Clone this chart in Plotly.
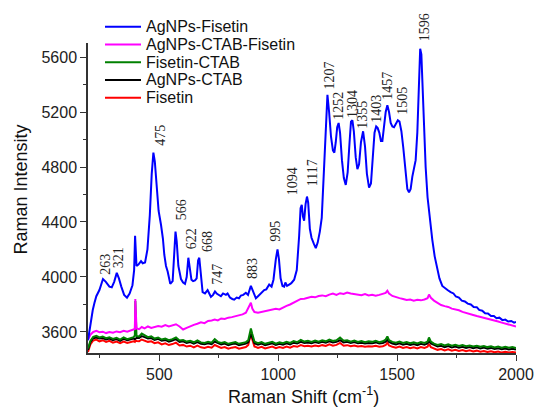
import plotly.graph_objects as go

# ---------------- data ----------------
series_names = ["AgNPs-Fisetin", "AgNPs-CTAB-Fisetin", "Fisetin-CTAB", "AgNPs-CTAB", "Fisetin"]
series_colors = ["#0000FF", "#FF00FF", "#008000", "#000000", "#FF0000"]

blue_x = [
    200, 207, 213, 220, 227, 235, 248, 256, 263, 275,
    290, 300, 310, 321, 330, 340, 352, 364, 375, 387,
    394, 398, 401, 404, 412, 423, 430, 440, 450, 460,
    468, 475, 481, 488, 497, 507, 515, 521, 528, 535,
    546, 556, 563, 568, 573, 580, 591, 600, 608, 615,
    622, 628, 635, 642, 650, 657, 663, 668, 673, 682,
    692, 703, 710, 717, 726, 734, 741, 750, 759, 768,
    780, 787, 797, 807, 815, 825, 835, 843, 853, 864,
    873, 885, 893, 906, 915, 925, 935, 941, 950, 962,
    972, 980, 990, 997, 1003, 1010, 1018, 1025, 1030, 1037,
    1046, 1055, 1067, 1078, 1088, 1094, 1099, 1104, 1109, 1115,
    1121, 1126, 1133, 1140, 1150, 1158, 1166, 1175, 1183, 1190,
    1198, 1207, 1214, 1222, 1230, 1236, 1242, 1248, 1254, 1260,
    1268, 1276, 1284, 1292, 1300, 1306, 1312, 1318, 1326, 1333,
    1340, 1348, 1357, 1365, 1373, 1382, 1390, 1398, 1405, 1412,
    1418, 1425, 1432, 1438, 1445, 1452, 1459, 1466, 1473, 1480,
    1487, 1495, 1503, 1510, 1518, 1526, 1535, 1543, 1550, 1557,
    1564, 1571, 1578, 1585, 1591, 1597, 1602, 1607, 1613, 1620,
    1628, 1638, 1648, 1658, 1669, 1678, 1690, 1700, 1712, 1725,
    1737, 1747, 1760, 1772, 1785, 1797, 1810, 1822, 1835, 1845,
    1858, 1870, 1882, 1895, 1907, 1918, 1930, 1943, 1955, 1967,
    1980, 1992, 2000,
]
blue_y = [
    3540, 3620, 3710, 3760, 3810, 3860, 3905, 3950, 3985, 3965,
    3930, 3925, 3965, 4030, 3990, 3930, 3870, 3850, 3880, 3940,
    4050, 4300, 4200, 4080, 4090, 4115, 4100, 4105, 4200, 4450,
    4750, 4905, 4840, 4650, 4480, 4380, 4280, 4160, 4080, 4040,
    3950, 3970, 4150, 4330, 4260, 4080, 3985, 3960, 3950, 4000,
    4140, 4050, 3980, 3970, 3975, 3990, 4120, 4140, 4060, 3890,
    3880, 3905, 3880, 3855, 3870, 3895, 3880, 3870, 3860, 3880,
    3870, 3880, 3850, 3840, 3835, 3850, 3845, 3865, 3870, 3885,
    3870, 3935, 3900, 3845, 3860, 3880, 3900, 3905, 3910, 3945,
    3930, 3980, 4130, 4200, 4130, 3990, 3935, 3930, 3960, 3935,
    3945, 3955, 3980, 4050, 4300, 4500, 4525, 4440, 4410, 4530,
    4585, 4540, 4350, 4285, 4240, 4210, 4250, 4330, 4430, 4700,
    5050, 5325, 5200, 5020, 4920, 4905, 4980, 5090, 5120, 5050,
    4850, 4720, 4670, 4760, 4980, 5130, 5140, 5060, 4870, 4785,
    4820, 4980, 5060, 4950, 4750, 4650, 4680, 4880, 5050, 5095,
    5085, 5050, 4990, 4990, 5090, 5200, 5250, 5200, 5120, 5095,
    5090, 5120, 5140, 5130, 5060, 4940, 4750, 4640, 4615, 4640,
    4730, 4780, 4850, 5050, 5400, 5660, 5620, 5400, 5050, 4800,
    4580, 4400, 4270, 4150, 4050, 3990, 3935, 3920, 3905, 3890,
    3880, 3858, 3850, 3828, 3822, 3806, 3800, 3782, 3780, 3760,
    3755, 3736, 3735, 3716, 3716, 3700, 3704, 3686, 3690, 3676,
    3680, 3668, 3672,
]

base_x = [
    200, 210, 222, 235, 248, 262, 276, 290, 305, 320,
    335, 350, 365, 380, 392, 397, 399, 404, 415, 426,
    438, 452, 466, 480, 495, 510, 525, 540, 555, 570,
    585, 600, 615, 630, 645, 660, 675, 690, 705, 720,
    733, 746, 760, 775, 790, 805, 820, 835, 850, 864,
    874, 880, 885, 891, 900, 915, 930, 945, 960, 975,
    990, 1005, 1020, 1035, 1050, 1065, 1080, 1095, 1110, 1125,
    1140, 1155, 1170, 1185, 1200, 1215, 1230, 1245, 1260, 1275,
    1290, 1305, 1320, 1335, 1350, 1365, 1380, 1395, 1410, 1425,
    1440, 1452, 1459, 1466, 1480, 1495, 1510, 1525, 1540, 1555,
    1570, 1585, 1600, 1615, 1628, 1634, 1642, 1655, 1670, 1685,
    1700, 1715, 1730, 1745, 1760, 1775, 1790, 1805, 1820, 1835,
    1850, 1865, 1880, 1895, 1910, 1925, 1940, 1955, 1970, 1985,
    2000,
]
magenta_y = [
    3545, 3580, 3600, 3608, 3598, 3602, 3592, 3600, 3594, 3604,
    3598, 3608, 3602, 3612, 3618, 3622, 3840, 3626, 3620, 3636,
    3626, 3640, 3630, 3636, 3644, 3638, 3650, 3640, 3646, 3656,
    3640, 3618, 3630, 3642, 3652, 3660, 3670, 3664, 3680, 3684,
    3690, 3684, 3698, 3694, 3704, 3708, 3714, 3720, 3728, 3740,
    3775, 3805, 3812, 3770, 3745, 3740, 3746, 3750, 3756, 3762,
    3768, 3764, 3780, 3790, 3800, 3814, 3826, 3840, 3842, 3850,
    3856, 3852, 3862, 3866, 3860, 3872, 3880, 3870, 3882, 3876,
    3886, 3880, 3876, 3874, 3868, 3876, 3866, 3870, 3864, 3870,
    3876, 3884, 3900, 3880, 3862, 3852, 3846, 3840, 3832, 3836,
    3828, 3834, 3830, 3836, 3845, 3872, 3848, 3828, 3812, 3796,
    3788, 3782, 3770, 3766, 3758, 3746, 3740, 3730, 3724, 3716,
    3710, 3704, 3698, 3690, 3682, 3676, 3668, 3660, 3654, 3648,
    3640,
]
green_y = [
    3480, 3535, 3565, 3572, 3560, 3566, 3555, 3562, 3550, 3558,
    3545, 3560, 3548, 3556, 3562, 3575, 3825, 3570, 3568, 3588,
    3575, 3562, 3568, 3552, 3560, 3545, 3552, 3540, 3548, 3560,
    3538, 3542, 3530, 3536, 3525, 3538, 3524, 3520, 3528, 3522,
    3548, 3528, 3520, 3526, 3514, 3522, 3526, 3514, 3520, 3526,
    3540, 3595, 3625, 3585, 3530, 3518, 3526, 3514, 3522, 3528,
    3515, 3524, 3518, 3528, 3520, 3534, 3526, 3542, 3530, 3536,
    3528, 3538, 3530, 3540, 3532, 3544, 3534, 3540, 3560, 3536,
    3540, 3530, 3538, 3528, 3534, 3526, 3532, 3528, 3536, 3526,
    3532, 3545, 3568, 3540, 3528, 3522, 3530, 3520, 3526, 3518,
    3524, 3516, 3526, 3520, 3530, 3560, 3530, 3515, 3506, 3512,
    3502, 3510, 3500, 3506, 3498, 3504, 3496, 3502, 3494, 3500,
    3492, 3498, 3490, 3496, 3488, 3494, 3486, 3492, 3485, 3490,
    3484,
]
black_y = [
    3470, 3525, 3555, 3560, 3552, 3556, 3545, 3552, 3540, 3548,
    3536, 3550, 3540, 3546, 3552, 3548, 3550, 3556, 3556, 3570,
    3562, 3552, 3556, 3542, 3550, 3536, 3542, 3530, 3538, 3548,
    3528, 3532, 3520, 3526, 3515, 3526, 3514, 3510, 3518, 3512,
    3530, 3518, 3510, 3516, 3504, 3512, 3516, 3504, 3510, 3515,
    3525, 3565, 3585, 3560, 3518, 3508, 3516, 3504, 3512, 3518,
    3505, 3514, 3508, 3518, 3510, 3522, 3516, 3528, 3520, 3524,
    3518, 3526, 3520, 3528, 3522, 3532, 3524, 3528, 3540, 3524,
    3528, 3520, 3526, 3518, 3522, 3516, 3520, 3518, 3524, 3516,
    3520, 3530, 3545, 3528, 3516, 3510, 3518, 3508, 3514, 3506,
    3512, 3504, 3514, 3508, 3516, 3535, 3516, 3503, 3494, 3500,
    3490, 3498, 3488, 3494, 3486, 3492, 3484, 3490, 3482, 3488,
    3480, 3486, 3478, 3484, 3476, 3482, 3474, 3480, 3473, 3478,
    3472,
]
red_y = [
    3455, 3510, 3538, 3545, 3532, 3540, 3528, 3536, 3522, 3530,
    3518, 3530, 3520, 3526, 3532, 3528, 3540, 3534, 3532, 3545,
    3538, 3528, 3532, 3518, 3525, 3510, 3518, 3505, 3512, 3522,
    3502, 3506, 3494, 3500, 3488, 3500, 3488, 3484, 3492, 3486,
    3505, 3492, 3484, 3490, 3478, 3486, 3490, 3478, 3484, 3490,
    3505, 3560, 3590, 3545, 3495, 3484, 3492, 3480, 3488, 3494,
    3482, 3490, 3484, 3494, 3486, 3498, 3492, 3504, 3496, 3500,
    3494, 3502, 3496, 3504, 3498, 3510, 3500, 3506, 3520, 3500,
    3504, 3496, 3502, 3494, 3498, 3492, 3496, 3494, 3500, 3492,
    3496, 3505, 3522, 3502, 3492, 3486, 3494, 3484, 3490, 3482,
    3488, 3480, 3490, 3484, 3492, 3512, 3490, 3478, 3470, 3476,
    3466, 3474, 3464, 3470, 3462, 3468, 3460, 3466, 3458, 3464,
    3456, 3462, 3454, 3460, 3452, 3458, 3450, 3456, 3450, 3455,
    3450,
]

peak_labels = ["263", "321", "475", "566", "622", "668", "747", "883", "995", "1094",
               "1117", "1207", "1252", "1304", "1355", "1403", "1457", "1505", "1596"]
peak_label_x = [273, 327, 504, 591, 633, 703, 745, 892, 990, 1060,
                1144, 1217, 1256, 1315, 1357, 1410, 1462, 1525, 1613]
peak_label_y = [4000, 4046, 4938, 4402, 4191, 4167, 3930, 3971, 4245, 4584,
                4645, 5348, 5130, 5142, 5064, 5105, 5275, 5166, 5700]

x_range = [200, 2000]
y_range = [3447, 5702]
x_ticks = [500, 1000, 1500, 2000]
y_ticks = [3600, 4000, 4400, 4800, 5200, 5600]
x_title = "Raman Shift (cm<sup>-1</sup>)"
y_title = "Raman Intensity"

# ---------------- layout constants ----------------
W, H = 535, 408
ML, MR, MT, MB = 88, 19, 43, 55
PW, PH = W - ML - MR, H - MT - MB
SANS = "Liberation Sans, Arial, sans-serif"
SERIF = "Liberation Serif, Times New Roman, serif"

# ---------------- figure ----------------
fig = go.Figure()
series_x = [blue_x, base_x, base_x, base_x, base_x]
series_y = [blue_y, magenta_y, green_y, black_y, red_y]
# draw bottom-most first: red, black, green, magenta, blue
for i in [4, 3, 2, 1, 0]:
    fig.add_trace(go.Scatter(
        x=series_x[i], y=series_y[i], mode="lines", name=series_names[i],
        line=dict(color=series_colors[i], width=2), showlegend=False,
    ))

for t, lx, ly in zip(peak_labels, peak_label_x, peak_label_y):
    fig.add_annotation(x=lx, y=ly, text=t, textangle=-90, showarrow=False,
                       xanchor="center", yanchor="bottom",
                       font=dict(family=SERIF, size=14, color="#222"))

# custom legend (compact rows like the original)
leg_x0, leg_x1, leg_tx = 105, 141, 144
leg_y0, leg_dy = 26.7, 17.75
for i, (nm, col) in enumerate(zip(series_names, series_colors)):
    py = leg_y0 + leg_dy * i
    yp = (H - MB - py) / PH
    fig.add_shape(type="line", xref="paper", yref="paper",
                  x0=(leg_x0 - ML) / PW, x1=(leg_x1 - ML) / PW, y0=yp, y1=yp,
                  line=dict(color=col, width=2))
    fig.add_annotation(xref="paper", yref="paper", x=(leg_tx - ML) / PW, y=yp,
                       text=nm, showarrow=False, xanchor="left", yanchor="middle",
                       font=dict(family=SANS, size=16, color="#111"))

# axis titles as annotations (fixed positions, no automargin shrink)
fig.add_annotation(xref="paper", yref="paper", x=(303 - ML) / PW, y=(H - MB - 395) / PH,
                   text=x_title, showarrow=False, xanchor="center", yanchor="middle",
                   font=dict(family=SANS, size=18, color="#111"))
fig.add_annotation(xref="paper", yref="paper", x=(20.5 - ML) / PW, y=(H - MB - 190) / PH,
                   text=y_title, showarrow=False, textangle=-90, xanchor="center", yanchor="middle",
                   font=dict(family=SANS, size=18, color="#111"))

axis_font = dict(family=SANS, size=16, color="#222")
fig.update_xaxes(
    range=x_range, tickvals=x_ticks, ticks="outside", ticklen=6, tickwidth=1.2, tickcolor="#333",
    showline=True, linecolor="#333", linewidth=1.5, showgrid=False, zeroline=False,
    tickfont=axis_font, automargin=False,
    minor=dict(dtick=250, tick0=0, ticks="outside", ticklen=3, tickcolor="#333", showgrid=False),
)
fig.update_yaxes(
    range=y_range, tickvals=y_ticks, ticks="outside", ticklen=6, tickwidth=1.2, tickcolor="#333",
    showline=True, linecolor="#333", linewidth=1.5, showgrid=False, zeroline=False,
    tickfont=axis_font, automargin=False,
    minor=dict(dtick=200, tick0=3600, ticks="outside", ticklen=3, tickcolor="#333", showgrid=False),
)
fig.update_layout(
    width=W, height=H,
    margin=dict(l=ML, r=MR, t=MT, b=MB),
    paper_bgcolor="white", plot_bgcolor="white",
    showlegend=False,
)

fig.write_html("out.html")
